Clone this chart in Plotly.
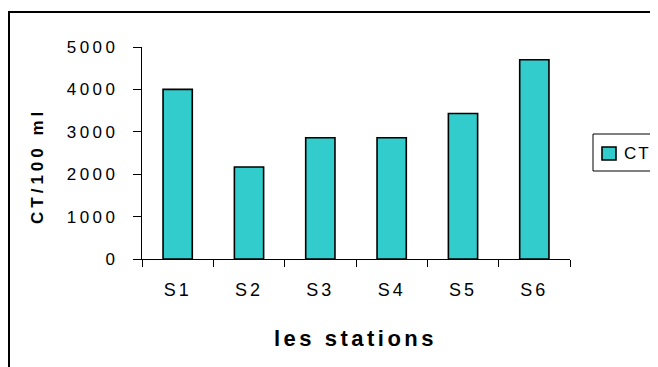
import plotly.graph_objects as go

stations = ["S1", "S2", "S3", "S4", "S5", "S6"]
ct_values = [4000, 2170, 2860, 2860, 3430, 4700]
y_tick_vals = [0, 1000, 2000, 3000, 4000, 5000]
y_tick_text = ["0", "1000", "2000", "3000", "4000", "5000"]
series_name = "CT"
x_title = "les stations"
y_title = "CT/100 ml"

# the page body adds an 8px offset; positions below are page pixels
OFF = 8
W, H = 658, 367
L, T = 142 - OFF, 47 - OFF
pw, ph = 428, 212
R, B = W - L - pw, H - T - ph

def px_x(px):
    return (px - OFF - L) / pw

def px_y(py):
    return 1 - (py - OFF - T) / ph

def sp(text, ls):
    return f'<span style="letter-spacing:{ls}px">{text}</span>'

family = "Liberation Sans, Arial, sans-serif"

fig = go.Figure()
fig.add_trace(go.Bar(
    x=stations,
    y=ct_values,
    name=series_name,
    marker=dict(color="#33CCCC", line=dict(color="black", width=1.6)),
    width=0.41,
    showlegend=False,
))

fig.update_layout(
    width=W, height=H,
    margin=dict(l=L, r=R, t=T, b=B, autoexpand=False),
    paper_bgcolor="white",
    plot_bgcolor="white",
    font=dict(family=family, size=17, color="black"),
    xaxis=dict(
        type="category",
        tickmode="array",
        tickvals=stations,
        ticktext=[sp(s, 3) for s in stations],
        tickson="boundaries",
        ticks="outside", ticklen=7, tickcolor="black", tickwidth=1,
        showline=True, linecolor="black", linewidth=1.2,
        showgrid=False, zeroline=False,
        tickfont=dict(size=18),
        ticklabelstandoff=14,
    ),
    yaxis=dict(
        range=[0, 5000],
        tickmode="array",
        tickvals=y_tick_vals,
        ticktext=[sp(t, 3.5) for t in y_tick_text],
        ticks="outside", ticklen=8, tickcolor="black", tickwidth=1,
        showline=True, linecolor="black", linewidth=1.2,
        showgrid=False, zeroline=False,
        tickfont=dict(size=17),
        ticklabelstandoff=11,
    ),
    annotations=[
        dict(text="<b>" + sp(x_title, 3.5) + "</b>", xref="paper", yref="paper",
             x=px_x(355), y=px_y(338), xanchor="center", yanchor="middle",
             showarrow=False, font=dict(size=22)),
        dict(text="<b>" + sp(y_title, 4) + "</b>", xref="paper", yref="paper",
             x=px_x(37), y=px_y(166), xanchor="center", yanchor="middle",
             textangle=-90, showarrow=False, font=dict(size=17)),
        dict(text=sp(series_name, 2), xref="paper", yref="paper",
             x=px_x(622), y=px_y(153), xanchor="left", yanchor="middle",
             showarrow=False, font=dict(size=17)),
    ],
    shapes=[
        dict(type="rect", xref="paper", yref="paper",
             x0=px_x(9), y0=px_y(12), x1=px_x(700), y1=px_y(420),
             line=dict(color="black", width=2), fillcolor="rgba(0,0,0,0)"),
        dict(type="rect", xref="paper", yref="paper",
             x0=px_x(593), y0=px_y(171), x1=px_x(700), y1=px_y(134),
             line=dict(color="black", width=1), fillcolor="white"),
        dict(type="rect", xref="paper", yref="paper",
             x0=px_x(602), y0=px_y(160), x1=px_x(616), y1=px_y(147),
             line=dict(color="black", width=1.6), fillcolor="#33CCCC"),
    ],
)

fig.write_html("out.html")
